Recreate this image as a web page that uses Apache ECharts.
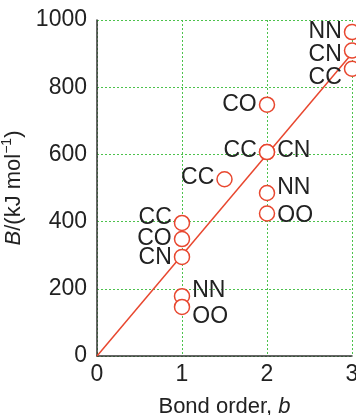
<!DOCTYPE html>
<html>
<head>
<meta charset="utf-8">
<script src="https://cdn.jsdelivr.net/npm/echarts@6/dist/echarts.min.js"></script>
<style>
  html, body { margin: 0; padding: 0; background: #fff; }
  #chart { width: 356px; height: 415px; }
</style>
</head>
<body>
<div id="chart"></div>
<script>
// bond data
const bondNames = ['CC', 'CO', 'CN', 'NN', 'OO', 'CC', 'CO', 'CC', 'CN', 'NN', 'OO', 'NN', 'CN', 'CC']
const bondOrders = [1, 1, 1, 1, 1, 1.5, 2, 2, 2, 2, 2, 3, 3, 3]
const bondEnergies = [396, 348, 295, 178, 146, 526, 748, 607, 607, 485, 424, 964, 909, 855]

// straight line through the origin
const lineOrders = [0, 3]
const lineEnergies = [0, 900]

const xTicks = [0, 1, 2, 3]
const yTicks = [0, 200, 400, 600, 800, 1000]

// which side each label sits on and a small vertical nudge
const labelSide = ['left', 'left', 'left', 'right', 'right', 'left', 'left', 'left', 'right', 'right', 'right', 'left', 'left', 'left']
const labelNudge = [-5, 0, 1, -6, 10, -2, 0, -1, -1, -5, 2, 0, 4, 9]

const red = '#e8472f'
const green = '#4cc24c'
const font = 'Liberation Sans, Arial, sans-serif'

const chart = echarts.init(document.getElementById('chart'))

const points = bondNames.map((name, i) => ({
  value: [bondOrders[i], bondEnergies[i]],
  label: {
    show: true,
    formatter: name,
    position: labelSide[i],
    distance: 2,
    offset: [0, labelNudge[i]]
  }
}))

chart.setOption({
  animation: false,
  backgroundColor: '#fff',
  grid: { left: 97, right: 4, top: 20, bottom: 59, outerBoundsMode: 'none', containLabel: false },
  xAxis: {
    type: 'value',
    min: xTicks[0],
    max: xTicks[xTicks.length - 1],
    interval: 1,
    name: '{n|Bond order, }{i|b}',
    nameLocation: 'middle',
    nameGap: 40,
    nameTextStyle: {
      rich: {
        n: { fontFamily: font, fontSize: 22, color: '#222' },
        i: { fontFamily: font, fontSize: 22, color: '#222', fontStyle: 'italic' }
      }
    },
    axisLine: { lineStyle: { color: '#333', width: 1.5 } },
    axisTick: { show: false },
    axisLabel: { fontFamily: font, fontSize: 23, color: '#222', margin: 7 },
    splitLine: { show: true, lineStyle: { color: green, type: [2, 2], width: 1 } }
  },
  yAxis: {
    type: 'value',
    min: yTicks[0],
    max: yTicks[yTicks.length - 1],
    interval: 200,
    name: '{i|B}{n|/(kJ mol}{s|−1}{n|)}',
    nameLocation: 'middle',
    nameGap: 45,
    nameTextStyle: {
      rich: {
        n: { fontFamily: font, fontSize: 22, color: '#222', verticalAlign: 'bottom', lineHeight: 25 },
        i: { fontFamily: font, fontSize: 22, color: '#222', fontStyle: 'italic', verticalAlign: 'bottom', lineHeight: 25 },
        s: { fontFamily: font, fontSize: 14, color: '#222', verticalAlign: 'top', lineHeight: 25 }
      }
    },
    axisLine: { show: true, lineStyle: { color: '#333', width: 1.5 } },
    axisTick: { show: false },
    axisLabel: { fontFamily: font, fontSize: 23, color: '#222', margin: 10, formatter: (v) => String(v) },
    splitLine: { show: true, lineStyle: { color: green, type: [2, 2], width: 1 } }
  },
  series: [
    {
      type: 'line',
      data: lineOrders.map((b, i) => [b, lineEnergies[i]]),
      showSymbol: false,
      lineStyle: { color: red, width: 1.5 },
      z: 2
    },
    {
      type: 'scatter',
      data: points,
      symbol: 'circle',
      symbolSize: 15,
      clip: false,
      itemStyle: { color: '#fff', borderColor: red, borderWidth: 1.5, opacity: 1 },
      label: { fontFamily: font, fontSize: 23, color: '#222' },
      emphasis: { disabled: true },
      z: 3
    }
  ]
})
</script>
</body>
</html>
